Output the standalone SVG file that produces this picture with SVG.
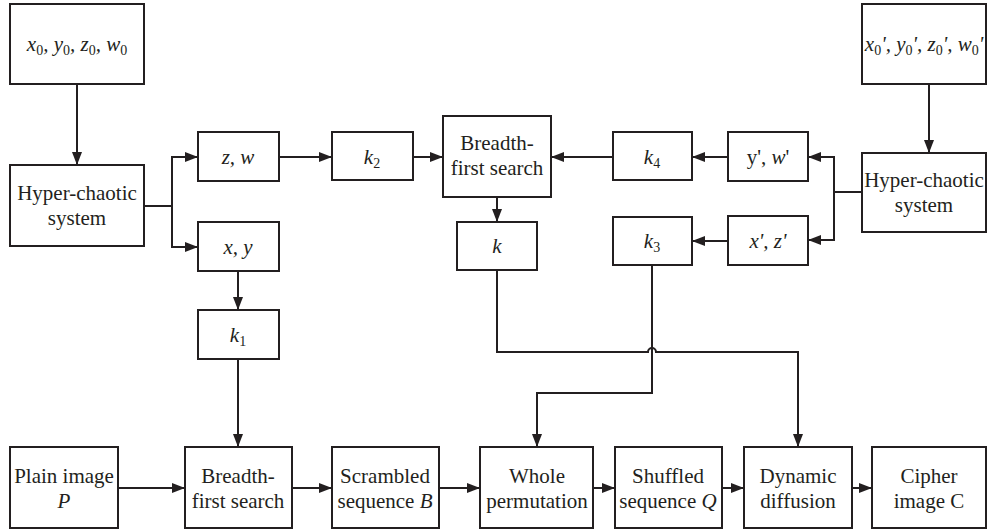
<svg xmlns="http://www.w3.org/2000/svg" width="990" height="532" viewBox="0 0 990 532">
<defs>
<marker id="a" markerUnits="userSpaceOnUse" markerWidth="13" markerHeight="10" refX="13" refY="5" orient="auto">
<path d="M0,0 L13,5 L0,10 z" fill="#231f20"/>
</marker>
</defs>
<rect width="990" height="532" fill="#fff"/>
<g id="connectors" fill="none" stroke="#231f20" stroke-width="2" marker-end="url(#a)">
<path d="M77,84 V165"/>
<path d="M144,206 H172 V157 H198"/>
<path d="M172,206 V247 H198"/>
<path d="M279,157 H332"/>
<path d="M413,157 H443"/>
<path d="M613,157 H551"/>
<path d="M728,157 H692"/>
<path d="M728,241 H692"/>
<path d="M929,84 V153"/>
<path d="M862,192 H834 V157 H808"/>
<path d="M834,192 V240 H808"/>
<path d="M497,197 V222"/>
<path d="M238,271 V310"/>
<path d="M238,359 V447"/>
<path d="M497,270 V352 H648 A4,4 0 0 1 656,352 H798 V447"/>
<path d="M652,265 V393 H537 V447"/>
<path d="M118,488 H185"/>
<path d="M292,488 H332"/>
<path d="M439,488 H480"/>
<path d="M593,488 H615"/>
<path d="M722,488 H744"/>
<path d="M852,488 H872"/>
</g>
<g id="nodes" font-family="Liberation Serif" font-size="21" text-anchor="middle">
<g fill="#fff" stroke="#231f20" stroke-width="2">
<rect x="10" y="4" width="134" height="80"/>
<rect x="10" y="165" width="134" height="81"/>
<rect x="198" y="132" width="81" height="49"/>
<rect x="198" y="222" width="81" height="49"/>
<rect x="198" y="310" width="81" height="49"/>
<rect x="332" y="132" width="81" height="48"/>
<rect x="443" y="116" width="108" height="81"/>
<rect x="457" y="222" width="80" height="48"/>
<rect x="613" y="132" width="79" height="48"/>
<rect x="613" y="217" width="79" height="48"/>
<rect x="728" y="132" width="80" height="49"/>
<rect x="728" y="216" width="80" height="49"/>
<rect x="862" y="4" width="124" height="80"/>
<rect x="862" y="153" width="124" height="79"/>
<rect x="10" y="447" width="108" height="81"/>
<rect x="185" y="447" width="107" height="81"/>
<rect x="332" y="447" width="107" height="81"/>
<rect x="480" y="447" width="113" height="81"/>
<rect x="615" y="447" width="107" height="81"/>
<rect x="744" y="447" width="108" height="81"/>
<rect x="872" y="447" width="114" height="81"/>
</g>
<g fill="#231f20">
<g id="init"><text style="font-family:'Liberation Serif'" x="77" y="51" font-style="italic">x<tspan font-size="14" font-style="normal" dy="4">0</tspan><tspan dy="-4">, y</tspan><tspan font-size="14" font-style="normal" dy="4">0</tspan><tspan dy="-4">, z</tspan><tspan font-size="14" font-style="normal" dy="4">0</tspan><tspan dy="-4">, w</tspan><tspan font-size="14" font-style="normal" dy="4">0</tspan></text></g>
<g id="hc1"><text style="font-family:'Liberation Serif'" x="77" y="200">Hyper-chaotic</text><text style="font-family:'Liberation Serif'" x="77" y="225">system</text></g>
<g id="zw"><text style="font-family:'Liberation Serif'" x="238" y="164" font-style="italic">z, w</text></g>
<g id="xy"><text style="font-family:'Liberation Serif'" x="238" y="254" font-style="italic">x, y</text></g>
<g id="k1"><text style="font-family:'Liberation Serif'" x="238" y="342" font-style="italic">k<tspan font-size="14" font-style="normal" dy="4">1</tspan></text></g>
<g id="k2"><text style="font-family:'Liberation Serif'" x="372" y="164" font-style="italic">k<tspan font-size="14" font-style="normal" dy="4">2</tspan></text></g>
<g id="bfs1"><text style="font-family:'Liberation Serif'" x="497" y="150">Breadth-</text><text style="font-family:'Liberation Serif'" x="497" y="175">first search</text></g>
<g id="k"><text style="font-family:'Liberation Serif'" x="497" y="253" font-style="italic">k</text></g>
<g id="k4"><text style="font-family:'Liberation Serif'" x="652" y="164" font-style="italic">k<tspan font-size="14" font-style="normal" dy="4">4</tspan></text></g>
<g id="k3"><text style="font-family:'Liberation Serif'" x="652" y="248" font-style="italic">k<tspan font-size="14" font-style="normal" dy="4">3</tspan></text></g>
<g id="yw"><text style="font-family:'Liberation Serif'" x="768" y="164">y', <tspan font-style="italic">w</tspan>'</text></g>
<g id="xz"><text style="font-family:'Liberation Serif'" x="768" y="248" font-style="italic">x', z'</text></g>
<g id="init2"><text style="font-family:'Liberation Serif'" x="924" y="51" font-style="italic">x<tspan font-size="14" font-style="normal" dy="4">0</tspan><tspan dy="-4">', y</tspan><tspan font-size="14" font-style="normal" dy="4">0</tspan><tspan dy="-4">', z</tspan><tspan font-size="14" font-style="normal" dy="4">0</tspan><tspan dy="-4">', w</tspan><tspan font-size="14" font-style="normal" dy="4">0</tspan><tspan dy="-4">'</tspan></text></g>
<g id="hc2"><text style="font-family:'Liberation Serif'" x="924" y="187">Hyper-chaotic</text><text style="font-family:'Liberation Serif'" x="924" y="212">system</text></g>
<g id="plain"><text style="font-family:'Liberation Serif'" x="64" y="483">Plain image</text><text style="font-family:'Liberation Serif'" x="64" y="508" font-style="italic">P</text></g>
<g id="bfs2"><text style="font-family:'Liberation Serif'" x="238" y="483">Breadth-</text><text style="font-family:'Liberation Serif'" x="238" y="508">first search</text></g>
<g id="scr"><text style="font-family:'Liberation Serif'" x="385" y="483">Scrambled</text><text style="font-family:'Liberation Serif'" x="385" y="508">sequence <tspan font-style="italic">B</tspan></text></g>
<g id="whole"><text style="font-family:'Liberation Serif'" x="537" y="483">Whole</text><text style="font-family:'Liberation Serif'" x="537" y="508">permutation</text></g>
<g id="shuf"><text style="font-family:'Liberation Serif'" x="668" y="483">Shuffled</text><text style="font-family:'Liberation Serif'" x="668" y="508">sequence <tspan font-style="italic">Q</tspan></text></g>
<g id="dyn"><text style="font-family:'Liberation Serif'" x="798" y="483">Dynamic</text><text style="font-family:'Liberation Serif'" x="798" y="508">diffusion</text></g>
<g id="cip"><text style="font-family:'Liberation Serif'" x="929" y="483">Cipher</text><text style="font-family:'Liberation Serif'" x="929" y="508">image C</text></g>
</g>
</g>
</svg>
